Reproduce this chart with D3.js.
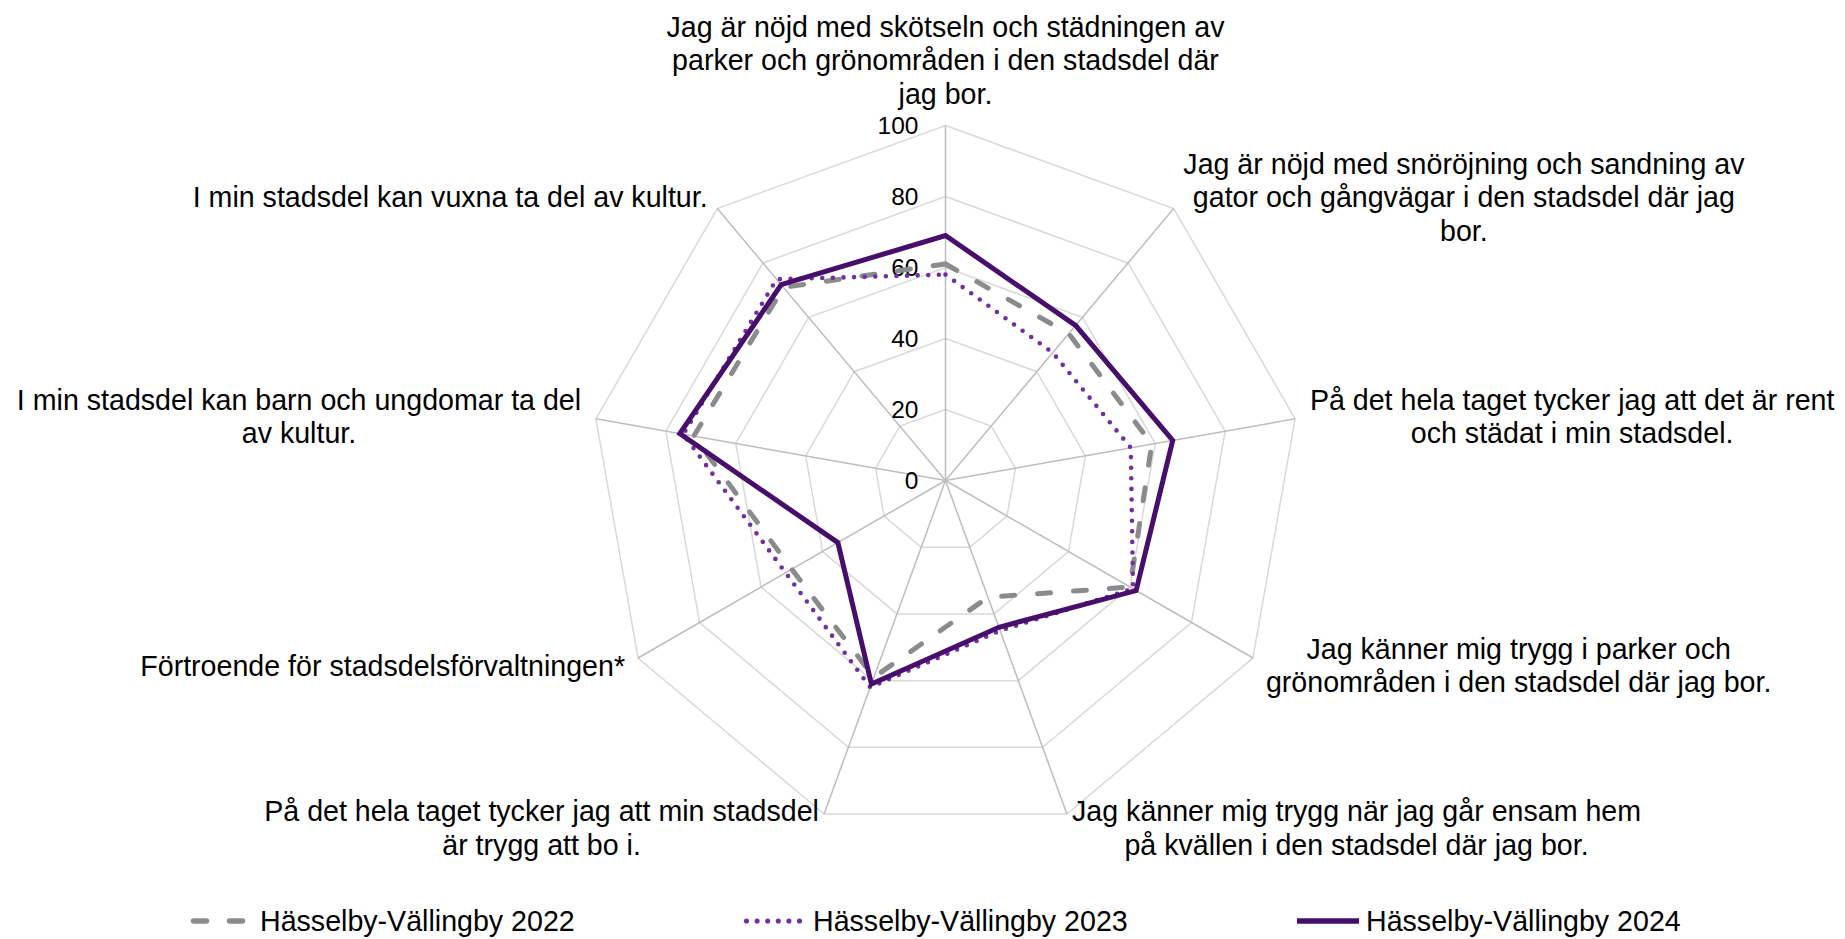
<!DOCTYPE html>
<html>
<head>
<meta charset="utf-8">
<script src="https://cdn.jsdelivr.net/npm/d3@7"></script>
<style>
  body { margin: 0; background: #fff; }
  svg { display: block; font-family: "Liberation Sans", Arial, sans-serif; }
</style>
</head>
<body>
<div id="chart"></div>
<script>
// Categories, clockwise from the top
const categories = [
  "Jag är nöjd med skötseln och städningen av\nparker och grönområden i den stadsdel där\njag bor.",
  "Jag är nöjd med snöröjning och sandning av\ngator och gångvägar i den stadsdel där jag\nbor.",
  "På det hela taget tycker jag att det är rent\noch städat i min stadsdel.",
  "Jag känner mig trygg i parker och\ngrönområden i den stadsdel där jag bor.",
  "Jag känner mig trygg när jag går ensam hem\npå kvällen i den stadsdel där jag bor.",
  "På det hela taget tycker jag att min stadsdel\när trygg att bo i.",
  "Förtroende för stadsdelsförvaltningen*",
  "I min stadsdel kan barn och ungdomar ta del\nav kultur.",
  "I min stadsdel kan vuxna ta del av kultur."
];

const ticks = [0, 20, 40, 60, 80, 100];

const seriesNames = ["Hässelby-Vällingby 2022", "Hässelby-Vällingby 2023", "Hässelby-Vällingby 2024"];
const values2022 = [61, 54, 59, 60, 35, 59, 50, 72, 71];
const values2023 = [58, 47, 53, 61, 45, 62, 52, 75, 74];
const values2024 = [69, 57, 65, 62, 44, 61, 35, 76, 72];

const width = 1845;
const height = 939;
const cx = 945.5, cy = 480.5, R = 355;

const styles = [
  { color: "#8a8b8d", width: 5, dash: "13 23", cap: "round" },
  { color: "#7030a0", width: 4.6, dash: "0 10.6", cap: "round" },
  { color: "#470e6c", width: 5, dash: null, cap: "butt" }
];

const series = [values2022, values2023, values2024].map((values, i) => ({
  name: seriesNames[i], values, style: styles[i]
}));

const r = d3.scaleLinear().domain([0, 100]).range([0, R]);
const n = categories.length;
const angle = i => i * 2 * Math.PI / n;
const point = (i, v) => [cx + r(v) * Math.sin(angle(i)), cy - r(v) * Math.cos(angle(i))];

const svg = d3.select("#chart").append("svg")
    .attr("width", width)
    .attr("height", height)
    .attr("viewBox", `0 0 ${width} ${height}`);

// rings
const ringLine = d3.line().curve(d3.curveLinearClosed);
svg.append("g")
  .selectAll("path")
  .data(ticks.filter(t => t > 0))
  .join("path")
    .attr("d", t => ringLine(d3.range(n).map(i => point(i, t))))
    .attr("fill", "none")
    .attr("stroke", "#d9d9d9")
    .attr("stroke-width", 1.5);

// spokes
svg.append("g")
  .selectAll("line")
  .data(d3.range(n))
  .join("line")
    .attr("x1", cx).attr("y1", cy)
    .attr("x2", i => point(i, 100)[0])
    .attr("y2", i => point(i, 100)[1])
    .attr("stroke", "#bdbdbd")
    .attr("stroke-width", 1.5);

// tick labels
svg.append("g")
    .attr("font-size", 24.5)
    .attr("fill", "#000")
    .attr("text-anchor", "end")
  .selectAll("text")
  .data(ticks)
  .join("text")
    .attr("x", cx - 27)
    .attr("y", t => cy - r(t))
    .attr("dy", "0.35em")
    .text(t => t);

// series
const seriesLine = d3.line().curve(d3.curveLinearClosed);
svg.append("g")
  .selectAll("path")
  .data(series)
  .join("path")
    .attr("d", s => seriesLine(s.values.map((v, i) => point(i, v))))
    .attr("fill", "none")
    .attr("stroke", s => s.style.color)
    .attr("stroke-width", s => s.style.width)
    .attr("stroke-dasharray", s => s.style.dash)
    .attr("stroke-linecap", s => s.style.cap)
    .attr("stroke-linejoin", "miter");

// category labels
const fontSize = 28.6, lineH = 33.5, gap = 15;
const labels = svg.append("g")
    .attr("font-size", fontSize)
    .attr("fill", "#000")
    .attr("text-anchor", "middle");

categories.forEach((cat, i) => {
  const a = angle(i);
  const sx = Math.sin(a), sy = -Math.cos(a);
  const ax = cx + (R + gap) * sx, ay = cy + (R + gap) * sy;
  const lines = cat.split("\n");
  const text = labels.append("text");
  lines.forEach(l => text.append("tspan").text(l));
  let w = 0;
  text.selectAll("tspan").each(function() { w = Math.max(w, this.getComputedTextLength()); });
  const h = lines.length * lineH;
  let bx = ax, by = ay;
  if (Math.abs(sx) > 0.01) bx = ax + Math.sign(sx) * w / 2;
  if (Math.abs(sx) <= 0.01) by = ay + Math.sign(sy) * h / 2;
  text.selectAll("tspan")
      .attr("x", bx)
      .attr("y", (d, j) => by - h / 2 + lineH / 2 + j * lineH)
      .attr("dy", "0.35em");
});

// legend
const legendX = 191, legendStep = 553, legendY = 921;
const legend = svg.append("g")
  .selectAll("g")
  .data(series)
  .join("g")
    .attr("transform", (d, i) => `translate(${legendX + i * legendStep},${legendY})`);

legend.append("line")
    .attr("x1", d => d.style.cap === "round" ? 2.5 : 0)
    .attr("x2", 62)
    .attr("stroke", d => d.style.color)
    .attr("stroke-width", d => d.style.width + 0.5)
    .attr("stroke-dasharray", d => d.style.dash)
    .attr("stroke-linecap", d => d.style.cap);

legend.append("text")
    .attr("x", 69)
    .attr("dy", "0.35em")
    .attr("font-size", fontSize)
    .text(d => d.name);
</script>
</body>
</html>
